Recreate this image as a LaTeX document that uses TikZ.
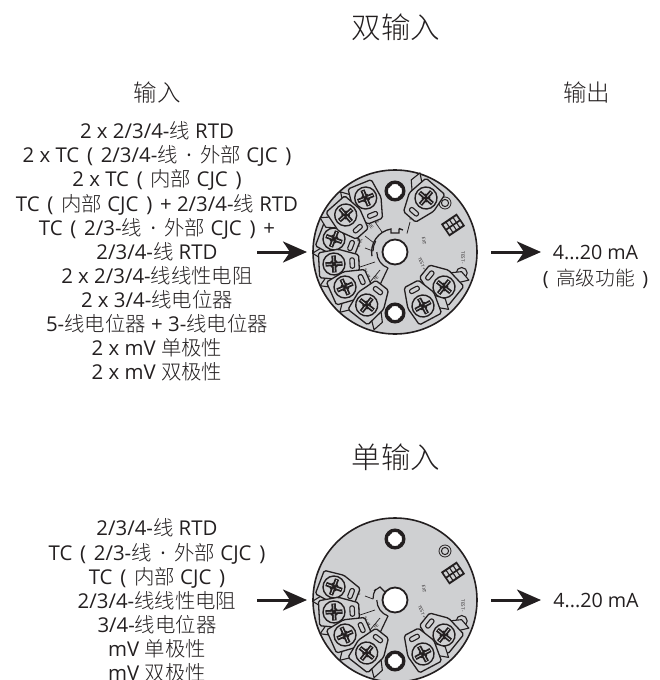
\documentclass[tikz,border=0pt]{standalone}
\usepackage{fontspec}
\setmainfont{Open Sans}
\newfontfamily\cjk[UprightFont=* Light]{Noto Sans CJK SC}
\usetikzlibrary{arrows.meta}
\newcommand{\zh}[1]{{\cjk #1}}
\newcommand{\lpr}{\hspace*{.38em}(\hspace*{.38em}}
\newcommand{\rpr}{\hspace*{.38em})\hspace*{.38em}}
\newcommand{\mdot}{\hspace{.42em}·\hspace{.42em}}
\definecolor{ink}{HTML}{231F20}
\definecolor{plate}{HTML}{CFD0D2}
\tikzset{
  x=1pt,y=1pt,
  bigarrow/.style={draw=ink,line width=3pt,-{Stealth[length=24pt,width=21pt,inset=7pt]}},
  maintext/.style={text=ink,align=center,inner sep=0pt,font=\fontsize{20.4}{24.1}\selectfont},
  outtext/.style={text=ink,align=center,inner sep=0pt,font=\fontsize{19.7}{26}\selectfont},
  headtext/.style={text=ink,inner sep=0pt,font=\fontsize{23.5}{28}\selectfont},
  titletext/.style={text=ink,inner sep=0pt,font=\fontsize{29.5}{32}\selectfont},
  tiny/.style={text=ink,inner sep=0pt,font=\fontsize{4.5}{5}\selectfont},
  terminal/.pic={
    \draw[ink,line width=1.1pt,fill=plate,line join=round]
      (-8,-12) -- (-15,-21) -- (-4,-23) -- (5,-14) -- cycle;
    \draw[ink,line width=1.3pt,fill=plate,rounded corners=1.6pt]
      (-15,-13) -- (-15,12) -- (5,14.5) -- (25,8) -- (25,-8) -- (7,-16) -- cycle;
    \draw[ink,line width=1.4pt,fill=plate] (0,0) circle (11);
    \draw[ink,line width=4.4pt] (-8.5,0) -- (8.5,0) (0,-8.5) -- (0,8.5);
    \fill[ink] (0,0) circle (4.4);
    \draw[plate,line width=.8pt] (-7.5,0) -- (-2,0) (2,0) -- (7.5,0) (0,-7.5) -- (0,-2) (0,2) -- (0,7.5);
    \draw[ink,line width=1.1pt,fill=plate,rounded corners=2pt]
      (16,-5.2) rectangle (20.5,5.2);
  },
  rimhole/.pic={
    \draw[ink,line width=3.4pt,fill=white] (0,0) circle (8.8);
    \fill[ink] (45:7.8) circle (2.2) (135:7.8) circle (2.2) (225:7.8) circle (2.2) (315:7.8) circle (2.2);
    \fill[white,rounded corners=1pt] (-5,-5) rectangle (5,5);
  },
  common/.pic={
    \pic at (0,61) {rimhole};
    \pic at (0,-61) {rimhole};
    \draw[ink,line width=.8pt] (50,49) circle (6);
    \draw[ink,line width=1pt] (50,49) circle (3.6);
    \draw[ink,line width=1.1pt] (66.7,-21) circle (5.5);
    \begin{scope}[shift={(58,27)},rotate=34]
      \fill[ink] (-9.5,-7.5) rectangle (9.5,7.5);
      \foreach \i in {-6.3,-2.1,2.1,6.3}
        \foreach \j in {-3.2,3.2}
          \fill[plate] (\i-1.4,\j-2.2) rectangle (\i+1.4,\j+2.2);
    \end{scope}
    \node[tiny,rotate=-80] (ext-label) at (29,11) {EXT};
    \node[tiny,rotate=-68] (testp-label) at (27,-12) {TEST +};
    \node[tiny,rotate=-90] (testm-label) at (68,-6) {TEST -};
    \node[tiny,rotate=-60] (one-label) at (31,-27) {1};
    \node[tiny,rotate=-60] (two-label) at (18,-33) {2};
    \node[tiny,rotate=20] (re-b) at (-30,-19) {RE};
    \node[tiny,rotate=-10] (five-label) at (-36,-9) {5};
    \node[tiny,rotate=30] (four-label) at (-26,-24) {4};
    \node[tiny,rotate=40] (re-c) at (-19,-26) {RE};
    \node[tiny,rotate=55] (three-label) at (-15,-34) {3};
    \node[tiny,rotate=10] (six-label) at (-36,6) {6};
    \draw[ink,line width=.7pt] (-30,4) -- (-22,1) (-35,-15) -- (-20,-10) (-25,-30) -- (-15,-18);
    \draw[ink,line width=1.2pt] (-17,-37) -- (-7,-16);
    \draw[line width=1.2pt,ink] (-7,-16) arc (250:180:17);
    \draw[line width=1.2pt,ink] (-22,1) arc (180:150:20);
    \pic[rotate=-21] at (-61,13) {terminal};
    \pic[rotate=3] at (-61,-12) {terminal};
    \pic[rotate=24] at (-50,-35) {terminal};
    \pic[rotate=52] at (-28.3,-53) {terminal};
    \pic[rotate=141] at (49,-35) {terminal};
    \pic[rotate=118] at (28,-54) {terminal};
    \draw[ink,line width=1.8pt,fill=white] (0,0) circle (12.5);
  }
}
\begin{document}
\begin{tikzpicture}
\useasboundingbox (0,-680) rectangle (659,0);
\clip (0,-680) rectangle (659,0);

\node[titletext] (title-dual) at (396,-27) {\zh{双输入}};
\node[headtext] (head-in) at (157,-93) {\zh{输入}};
\node[headtext] (head-out) at (586.5,-93) {\zh{输出}};

\node[maintext] (inputs-dual) at (157,-251.5) {%
2 x 2/3/4-\zh{线} RTD\\
2 x TC\lpr 2/3/4-\zh{线}\mdot\zh{外部} CJC\rpr\\
2 x TC\lpr\zh{内部} CJC\rpr\\
TC\lpr\zh{内部} CJC\rpr+ 2/3/4-\zh{线} RTD\\
TC\lpr 2/3-\zh{线}\mdot\zh{外部} CJC\rpr+\\
2/3/4-\zh{线} RTD\\
2 x 2/3/4-\zh{线线性电阻}\\
2 x 3/4-\zh{线电位器}\\
5-\zh{线电位器} + 3-\zh{线电位器}\\
2 x mV \zh{单极性}\\
2 x mV \zh{双极性}};

\node[circle,draw=ink,line width=1.6pt,fill=plate,minimum size=164pt,inner sep=0pt] (disc-dual) at (395,-252) {};
\begin{scope}[shift={(395,-252)}]
  \pic {common};
  \draw[ink,line width=1.3pt] (4,23.5) -- (8,22) (4,23.5) -- (4,19) -- (-4,19) -- (-4,23) arc (100:190:23.5);
  \draw[ink,line width=.8pt] (12,18.5) -- (15,30);
  \node[tiny,rotate=-60] (nine-label) at (16,33) {9};
  \node[tiny,rotate=-70] (eight-label) at (-18,30) {8};
  \node[tiny,rotate=-50] (seven-label) at (-30,21) {7};
  \node[tiny,rotate=-20] (re-a) at (-35,11) {RE};
  \node[tiny,rotate=-50] (re-d) at (-24,26) {RE};
  \draw[ink,line width=.7pt] (-21,9) -- (-30,16) (-13,20) -- (-22,33);
  \pic[rotate=-131] at (31,54) {terminal};
  \pic[rotate=-68] at (-29.3,54) {terminal};
  \pic[rotate=-48.5] at (-49.3,37) {terminal};
\end{scope}

\coordinate (in-dual) at (257,-252);
\coordinate (in-dual-end) at (307,-252);
\draw[bigarrow] (in-dual) -- (in-dual-end);
\coordinate (out-dual) at (491,-252);
\coordinate (out-dual-end) at (541,-252);
\draw[bigarrow] (out-dual) -- (out-dual-end);

\node[outtext] (outputs-dual) at (595.5,-267) {4...20 mA\\\lpr\zh{高级功能}\rpr};

\node[titletext] (title-single) at (396,-457) {\zh{单输入}};

\node[maintext] (inputs-single) at (157,-600.5) {%
2/3/4-\zh{线} RTD\\
TC\lpr 2/3-\zh{线}\mdot\zh{外部} CJC\rpr\\
TC\lpr\zh{内部} CJC\rpr\\
2/3/4-\zh{线线性电阻}\\
3/4-\zh{线电位器}\\
mV \zh{单极性}\\
mV \zh{双极性}};

\node[circle,draw=ink,line width=1.6pt,fill=plate,minimum size=164pt,inner sep=0pt] (disc-single) at (395,-600) {};
\begin{scope}[shift={(395,-600)}]
  \pic {common};
  \draw[ink,line width=1.2pt] (-21,9) -- (-15,13) -- (-10,8);
\end{scope}

\coordinate (in-single) at (257,-600);
\coordinate (in-single-end) at (307,-600);
\draw[bigarrow] (in-single) -- (in-single-end);
\coordinate (out-single) at (491,-600);
\coordinate (out-single-end) at (541,-600);
\draw[bigarrow] (out-single) -- (out-single-end);

\node[outtext] (output-single) at (596,-600) {4...20 mA};
\end{tikzpicture}
\end{document}
